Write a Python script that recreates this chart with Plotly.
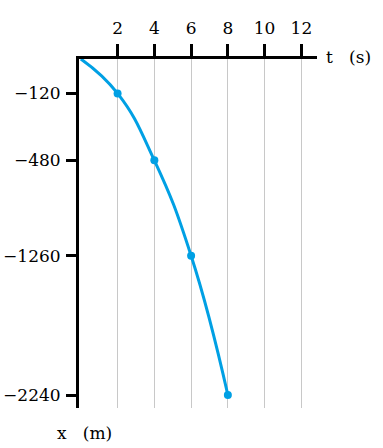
import plotly.graph_objects as go

# time values (s)
t_values = [0, 2, 4, 6, 8]
# vertical positions of the points on the (not-to-scale) x axis
x_depth = [0, -34.5, -101.5, -197, -336.5]
# tick labels shown on the vertical axis at the marked points
x_tick_labels = ["\u2212120", "\u2212480", "\u22121260", "\u22122240"]
t_ticks = [2, 4, 6, 8, 10, 12]

FONT = "DejaVu Serif"
BLUE = "#00a0e4"
FS = 17
SP = "\u00a0" * 3

fig = go.Figure()
fig.add_trace(go.Scatter(
    x=t_values, y=x_depth,
    mode="lines",
    line=dict(color=BLUE, width=3, shape="spline", smoothing=1.3),
    hoverinfo="skip",
))
fig.add_trace(go.Scatter(
    x=t_values[1:], y=x_depth[1:],
    mode="markers",
    marker=dict(color=BLUE, size=8),
    hoverinfo="skip",
))

fig.update_layout(
    width=383, height=448,
    margin=dict(l=79, r=66, t=59, b=40, autoexpand=False),
    plot_bgcolor="white", paper_bgcolor="white",
    showlegend=False,
    font=dict(family=FONT, size=FS, color="black"),
    xaxis=dict(
        side="top", range=[-0.1, 12.85], automargin=False,
        tickvals=t_ticks, ticktext=[str(v) for v in t_ticks],
        ticks="outside", ticklen=12, tickwidth=3, tickcolor="black",
        showline=True, linewidth=3, linecolor="black",
        showgrid=True, gridcolor="#c8c8c8", gridwidth=1,
        zeroline=False, ticklabelstandoff=3,
        tickfont=dict(family=FONT, size=FS, color="black"),
    ),
    yaxis=dict(
        range=[-349.5, 0], automargin=False,
        tickvals=x_depth[1:], ticktext=x_tick_labels,
        ticks="outside", ticklen=10, tickwidth=3, tickcolor="black",
        showline=True, linewidth=3, linecolor="black",
        showgrid=False, zeroline=False, ticklabelstandoff=2,
        tickfont=dict(family=FONT, size=FS, color="black"),
    ),
    annotations=[
        dict(text="t" + SP + "(s)", xref="paper", yref="paper", x=1, y=1,
             xanchor="left", yanchor="middle", xshift=7, yshift=2,
             showarrow=False, font=dict(family=FONT, size=FS, color="black")),
        dict(text="x" + SP + "(m)", xref="paper", yref="paper", x=0, y=0,
             xanchor="left", yanchor="top", xshift=-24, yshift=-13,
             showarrow=False, font=dict(family=FONT, size=FS, color="black")),
    ],
)

fig.write_html("out.html")
